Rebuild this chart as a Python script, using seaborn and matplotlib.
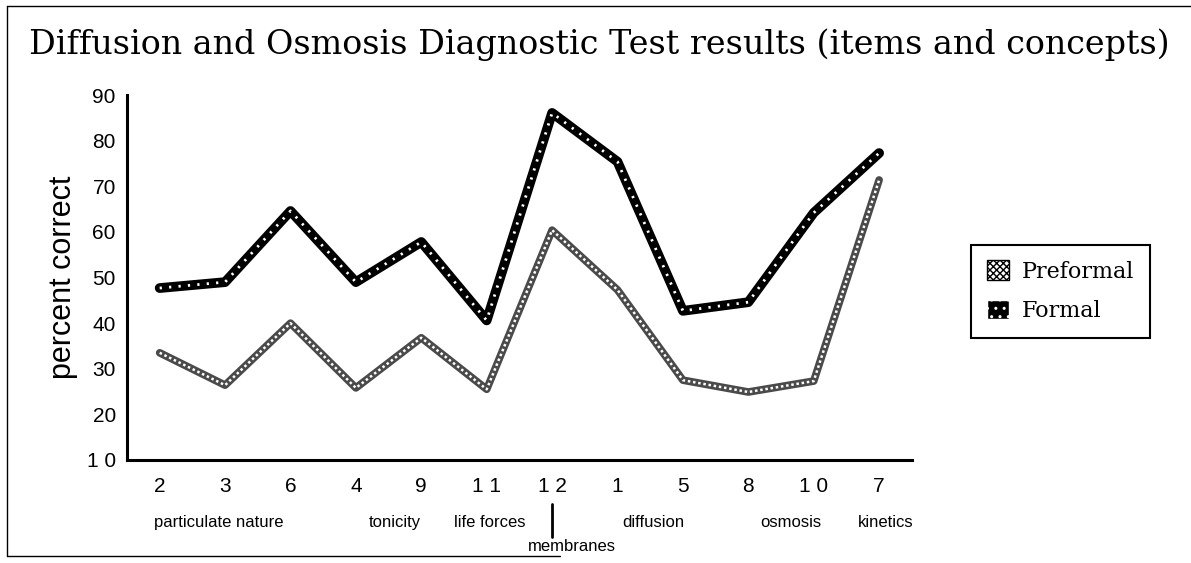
import numpy as np
import pandas as pd
import matplotlib.pyplot as plt
import seaborn as sns
from matplotlib.patches import Patch
from matplotlib.lines import Line2D
import matplotlib.transforms as mtransforms

# item numbers along the x axis, in plotted order
items = ["2", "3", "6", "4", "9", "1 1", "1 2", "1", "5", "8", "1 0", "7"]
preformal = [33.5, 26.4, 40.0, 25.8, 36.8, 25.5, 60.4, 47.3, 27.5, 24.9, 27.3, 71.4]
formal = [47.7, 49.0, 64.6, 49.0, 57.8, 40.6, 86.1, 75.4, 42.7, 44.6, 64.2, 77.3]

# concept groups below the item numbers (label, centre position in item units)
concepts = ["particulate nature", "tonicity", "life forces", "membranes",
            "diffusion", "osmosis", "kinetics"]
concept_pos = [0.9, 3.6, 5.05, 6.3, 7.55, 9.65, 11.1]

y_ticks = [10, 20, 30, 40, 50, 60, 70, 80, 90]
y_labels = ["1 0", "20", "30", "40", "50", "60", "70", "80", "90"]

df = pd.DataFrame({
    "pos": list(range(len(items))) * 2,
    "value": preformal + formal,
    "group": ["Preformal"] * len(items) + ["Formal"] * len(items),
})

sns.set_style("white")
plt.rcParams["font.family"] = ["Liberation Sans", "DejaVu Sans"]
plt.rcParams["text.color"] = "black"
plt.rcParams["axes.labelcolor"] = "black"
plt.rcParams["xtick.color"] = "black"
plt.rcParams["ytick.color"] = "black"

fig = plt.figure(figsize=(11.91, 5.63), dpi=100)
ax = fig.add_axes([0.1066, 0.183, 0.659, 0.648])

# thick base lines
sns.lineplot(data=df, x="pos", y="value", hue="group",
             palette={"Preformal": "#4a4a4a", "Formal": "black"},
             linewidth=7, legend=False, ax=ax, sort=False)
ax.lines[0].set_linewidth(5.5)
# texture on top of the lines
pre = df[df["group"] == "Preformal"]
frm = df[df["group"] == "Formal"]
ax.plot(pre["pos"], pre["value"], color="white", lw=1.8, dashes=(1, 1.1))
ax.plot(frm["pos"], frm["value"], color="white", lw=2.0, dashes=(0.8, 2.6))

ax.set_xlim(-0.5, 11.5)
ax.set_ylim(10, 90)
ax.set_xlabel("")
ax.set_ylabel("percent correct", fontsize=22, labelpad=6)

# tick marks sit between items, labels at the items
ax.set_xticks(np.arange(0.5, 11, 1))
ax.set_xticklabels([])
ax.set_xticks(range(len(items)), minor=True)
ax.set_xticklabels(items, minor=True, fontsize=15)
ax.tick_params(axis="x", which="major", direction="inout", length=12, width=1.5)
ax.tick_params(axis="x", which="minor", length=0, pad=12)
ax.set_yticks(y_ticks)
ax.set_yticklabels(y_labels, fontsize=15)
ax.tick_params(axis="y", direction="inout", length=12, width=1.5, pad=2)

for s in ["top", "right"]:
    ax.spines[s].set_visible(False)
for s in ["left", "bottom"]:
    ax.spines[s].set_linewidth(2.2)
    ax.spines[s].set_color("black")

trans = mtransforms.blended_transform_factory(ax.transData, ax.transAxes)
for name, xp in zip(concepts, concept_pos):
    yy = -0.238 if name == "membranes" else -0.172
    ax.text(xp, yy, name, transform=trans, ha="center", va="center", fontsize=12)
ax.add_line(Line2D([6.0, 6.0], [-0.12, -0.21], transform=trans, color="black",
                   lw=2, clip_on=False))

fig.text(0.024, 0.92, "Diffusion and Osmosis Diagnostic Test results (items and concepts)",
         fontsize=24, family="DejaVu Serif", va="center", ha="left")

handles = [Patch(facecolor="white", edgecolor="black", hatch="xxxxx", label="Preformal"),
           Patch(facecolor="black", edgecolor="white", hatch="..", label="Formal")]
leg = fig.legend(handles=handles, loc="upper left", bbox_to_anchor=(0.806, 0.585),
                 frameon=True, fancybox=False, edgecolor="black", framealpha=1,
                 prop={"family": "DejaVu Serif", "size": 16},
                 handlelength=1.0, handleheight=1.0, borderpad=0.7, labelspacing=0.75,
                 handletextpad=0.6)
leg.get_frame().set_linewidth(1.5)

# outer frame of the figure (left, top and part of bottom)
fig.add_artist(Line2D([0.006, 0.006], [0.012, 0.99], color="black", lw=1))
fig.add_artist(Line2D([0.006, 1.0], [0.99, 0.99], color="black", lw=1))
fig.add_artist(Line2D([0.006, 0.47], [0.012, 0.012], color="black", lw=1))

fig.savefig("out.png", dpi=100)
